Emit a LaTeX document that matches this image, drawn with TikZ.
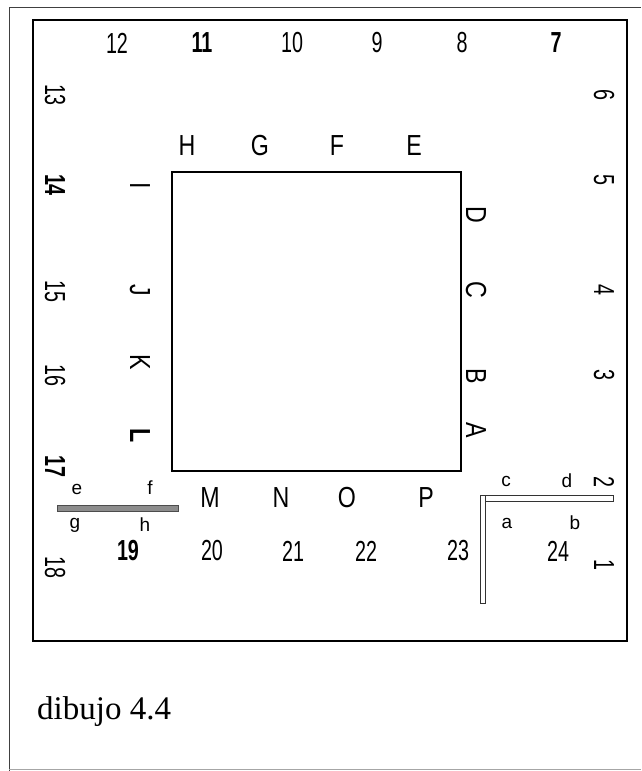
\documentclass[tikz,border=0pt]{standalone}
\usepackage{fontspec}
\setmainfont{Liberation Sans}
\newfontfamily\capfont{Liberation Serif}
\begin{document}
\begin{tikzpicture}[x=1pt,y=-1pt,
  num/.style={inner sep=0pt, font=\fontsize{29}{29}\selectfont, xscale=0.68},
  rnum/.style={inner sep=0pt, font=\fontsize{29}{29}\selectfont, rotate=-90, xscale=0.68},
  let/.style={inner sep=0pt, font=\fontsize{29}{29}\selectfont, xscale=0.8},
  rlet/.style={inner sep=0pt, font=\fontsize{29}{29}\selectfont, rotate=-90, xscale=0.8},
  small/.style={inner sep=0pt, font=\fontsize{19}{19}\selectfont},
  frame/.style={draw=black, line width=2.4pt},
  outer/.style={draw=black!75, line width=1pt}]
\useasboundingbox (0,0) rectangle (641,771);
% outer frame
\draw[outer] (9,771) -- (9,7) -- (641,7);
\draw[draw=black!35, line width=0.8pt] (9,769) -- (641,769);
% inner frame
\draw[frame] (33,20) rectangle (627,641);
% square
\draw[frame, line width=2.2pt] (172,172) rectangle (461,471);
% top numbers
\node[num] (n12) at (117,43) {12};
\node[num,font=\fontsize{29}{29}\selectfont\bfseries] (n11) at (202,43) {11};
\node[num] (n10) at (292,43) {10};
\node[num] (n9) at (377,43) {9};
\node[num] (n8) at (462,43) {8};
\node[num,font=\fontsize{29}{29}\selectfont\bfseries] (n7) at (556,43) {7};
% left numbers
\node[rnum] (n13) at (55,95) {13};
\node[rnum,font=\fontsize{29}{29}\selectfont\bfseries] (n14) at (55,185) {14};
\node[rnum] (n15) at (55,291) {15};
\node[rnum] (n16) at (55,375) {16};
\node[rnum,font=\fontsize{29}{29}\selectfont\bfseries] (n17) at (55,466) {17};
\node[rnum] (n18) at (55,567) {18};
% right numbers
\node[rnum] (n6) at (604,95) {6};
\node[rnum] (n5) at (604,180) {5};
\node[rnum] (n4) at (604,290) {4};
\node[rnum] (n3) at (604,375) {3};
\node[rnum] (n2) at (604,482) {2};
\node[rnum] (n1) at (604,565) {1};
% bottom numbers
\node[num,font=\fontsize{29}{29}\selectfont\bfseries] (n19) at (128,551) {19};
\node[num] (n20) at (212,551) {20};
\node[num] (n21) at (293,551) {21};
\node[num] (n22) at (366,551) {22};
\node[num] (n23) at (458,551) {23};
\node[num] (n24) at (558,551) {24};
% top letters
\node[let] (lH) at (187,146) {H};
\node[let] (lG) at (260,146) {G};
\node[let] (lF) at (337,146) {F};
\node[let] (lE) at (414,146) {E};
% left letters
\node[rlet] (lI) at (140,186) {I};
\node[rlet] (lJ) at (140,290) {J};
\node[rlet] (lK) at (140,362) {K};
\node[rlet,font=\fontsize{29}{29}\selectfont\bfseries] (lL) at (140,436) {L};
% right letters
\node[rlet] (lD) at (476,215) {D};
\node[rlet] (lC) at (476,290) {C};
\node[rlet] (lB) at (476,376) {B};
\node[rlet] (lA) at (476,430) {A};
% bottom letters
\node[let] (lM) at (210,498) {M};
\node[let] (lN) at (281,498) {N};
\node[let] (lO) at (347,498) {O};
\node[let] (lP) at (426,498) {P};
% bar e f g h
\draw[draw=black!70, fill=black!45, line width=0.8pt] (57,505) rectangle (178,511);
\node[small] (se) at (77,489) {e};
\node[small] (sf) at (150,488) {f};
\node[small] (sg) at (75,525) {g};
\node[small] (sh) at (145,525) {h};
% L-shaped double bar
\draw[draw=black!80, fill=white, line width=1pt] (480,495) rectangle (613,501);
\draw[draw=black!80, fill=white, line width=1pt] (480,495) rectangle (485,603);
\node[small] (sc) at (506,481) {c};
\node[small] (sd) at (567,481) {d};
\node[small] (sa) at (507,523) {a};
\node[small] (sb) at (575,523) {b};
% caption
\node[inner sep=0pt, anchor=west, font=\capfont\fontsize{33}{33}\selectfont] (cap) at (37,712) {dibujo 4.4};
\end{tikzpicture}
\end{document}
